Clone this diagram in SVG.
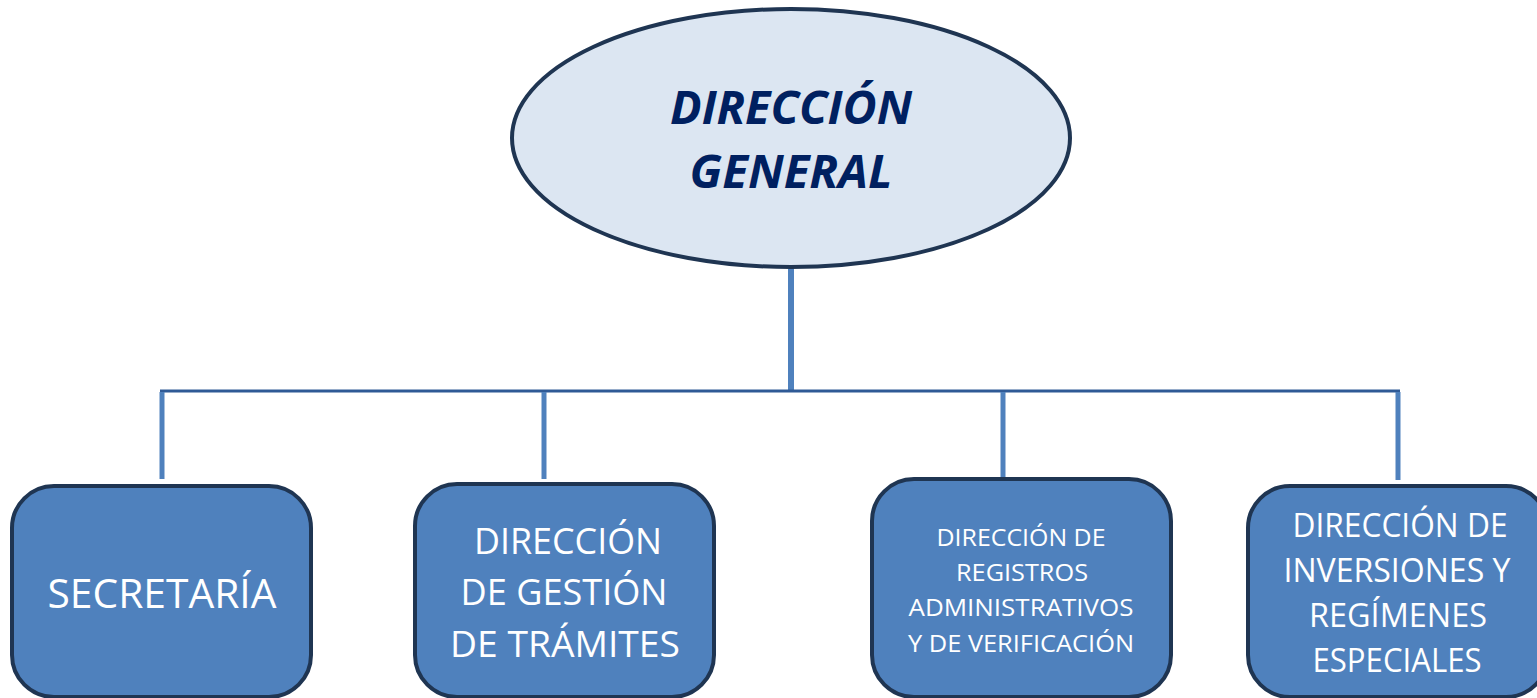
<svg xmlns="http://www.w3.org/2000/svg" width="1537" height="698" viewBox="0 0 1537 698">
<style>
.box{fill:#4f81bd;stroke:#1f3552;stroke-width:4}
.conn{stroke:#4f81bd;fill:none}
.bt{font-family:"Open Sans","Liberation Sans",sans-serif;fill:#ffffff;text-anchor:middle}
.tt{font-family:"Open Sans","Liberation Sans",sans-serif;font-weight:bold;font-style:italic;fill:#002060;text-anchor:middle;font-size:47px}
</style>
<rect width="1537" height="698" fill="#ffffff"/>
<g id="connectors">
<line class="conn" x1="791" y1="266" x2="791" y2="392" stroke-width="6"/>
<line x1="160" y1="391" x2="1400" y2="391" stroke="#2f5a96" stroke-width="3"/>
<line class="conn" x1="162" y1="392" x2="162" y2="479" stroke-width="5"/>
<line class="conn" x1="544" y1="392" x2="544" y2="479" stroke-width="5"/>
<line class="conn" x1="1003" y1="392" x2="1003" y2="478" stroke-width="5"/>
<line class="conn" x1="1398" y1="392" x2="1398" y2="480" stroke-width="5"/>
</g>
<g id="direccion-general">
<ellipse cx="791" cy="138" rx="279" ry="129" fill="#dce6f2" stroke="#1f3552" stroke-width="4"/>
<text class="tt" x="791" y="124" textLength="242" lengthAdjust="spacingAndGlyphs">DIRECCIÓN</text>
<text class="tt" x="791" y="188" textLength="203" lengthAdjust="spacingAndGlyphs">GENERAL</text>
</g>
<g id="secretaria">
<rect class="box" x="12" y="486" width="299" height="211" rx="42"/>
<text class="bt" x="162" y="608" font-size="40" textLength="229" lengthAdjust="spacingAndGlyphs">SECRETARÍA</text>
</g>
<g id="gestion-tramites">
<rect class="box" x="415" y="484" width="299" height="213" rx="42"/>
<text class="bt" x="568" y="554" font-size="36" textLength="188" lengthAdjust="spacingAndGlyphs">DIRECCIÓN</text>
<text class="bt" x="564" y="605" font-size="36" textLength="207" lengthAdjust="spacingAndGlyphs">DE GESTIÓN</text>
<text class="bt" x="565" y="657" font-size="36" textLength="230" lengthAdjust="spacingAndGlyphs">DE TRÁMITES</text>
</g>
<g id="registros">
<rect class="box" x="872" y="479" width="299" height="218" rx="42"/>
<text class="bt" x="1021" y="546" font-size="24" textLength="169" lengthAdjust="spacingAndGlyphs">DIRECCIÓN DE</text>
<text class="bt" x="1022" y="581" font-size="24" textLength="132" lengthAdjust="spacingAndGlyphs">REGISTROS</text>
<text class="bt" x="1021" y="616" font-size="24" textLength="225" lengthAdjust="spacingAndGlyphs">ADMINISTRATIVOS</text>
<text class="bt" x="1021" y="652" font-size="24" textLength="226" lengthAdjust="spacingAndGlyphs">Y DE VERIFICACIÓN</text>
</g>
<g id="inversiones">
<rect class="box" x="1248" y="486" width="300" height="211" rx="42"/>
<text class="bt" x="1400" y="537" font-size="32" textLength="215" lengthAdjust="spacingAndGlyphs">DIRECCIÓN DE</text>
<text class="bt" x="1397" y="582" font-size="32" textLength="227" lengthAdjust="spacingAndGlyphs">INVERSIONES Y</text>
<text class="bt" x="1398" y="627" font-size="32" textLength="178" lengthAdjust="spacingAndGlyphs">REGÍMENES</text>
<text class="bt" x="1397" y="672" font-size="32" textLength="169" lengthAdjust="spacingAndGlyphs">ESPECIALES</text>
</g>
</svg>
